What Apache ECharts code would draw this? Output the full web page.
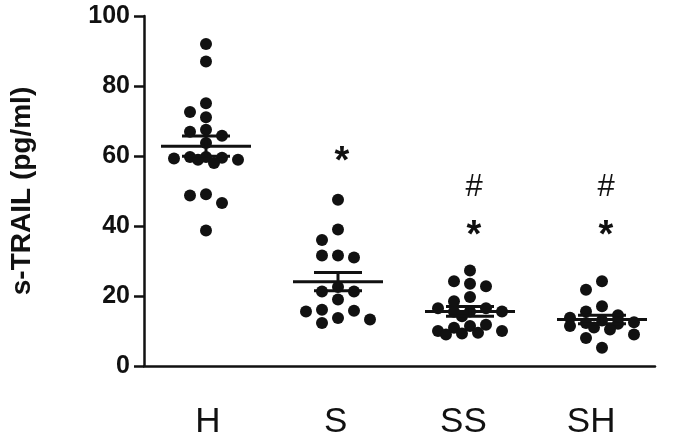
<!DOCTYPE html>
<html><head><meta charset="utf-8">
<script src="https://cdn.jsdelivr.net/npm/echarts@6/dist/echarts.min.js"></script>
<style>html,body{margin:0;padding:0;background:#fff}#c{width:677px;height:442px}</style>
</head><body><div id="c"></div>
<script>
const categories = ['H', 'S', 'SS', 'SH'];
const valuesH = [92.0, 87.0, 75.1, 72.6, 71.1, 67.5, 66.9, 65.8, 63.7, 59.7, 59.5, 59.7, 59.3, 58.9, 58.9, 58.0, 49.1, 48.7, 46.6, 38.7];
const valuesS = [47.5, 39.0, 36.0, 31.6, 31.0, 31.6, 22.6, 21.3, 21.3, 19.0, 16.1, 15.8, 15.6, 13.7, 13.3, 12.3];
const valuesSS = [27.3, 24.2, 23.5, 22.8, 19.7, 18.5, 16.5, 16.5, 15.6, 15.6, 15.5, 14.2, 11.8, 11.4, 10.9, 10.0, 10.0, 9.5, 9.3, 9.0];
const valuesSH = [24.2, 21.8, 17.1, 15.6, 14.5, 13.8, 13.0, 12.5, 12.3, 12.1, 11.4, 11.0, 10.4, 9.0, 8.0, 5.2];
const groupMeans = [62.8, 24.1, 15.6, 13.3];
const groupSEMs = [2.9, 2.6, 1.4, 1.2];
const starMarks = [null, 60, 39, 39];
const hashMarks = [null, null, 52, 52];
const yTickLabels = ['0', '20', '40', '60', '80', '100'];

const groups = [valuesH, valuesS, valuesSS, valuesSH];
const black = '#111111';
const font = 'Arial, "Liberation Sans", Helvetica, sans-serif';
const chart = echarts.init(document.getElementById('c'), null, { renderer: 'canvas' });

function buildOption(offsets) {
  const series = [];
  groups.forEach((vals, g) => {
    series.push({
      type: 'scatter', xAxisIndex: 1, yAxisIndex: 1, silent: true,
      symbol: 'circle', symbolSize: 12, z: 3,
      itemStyle: { color: black, opacity: 1 },
      data: vals.map((v, i) => ({ value: [g, v], symbolOffset: [offsets ? offsets[g][i] : 0, 0] }))
    });
  });
  series.push({
    type: 'custom', xAxisIndex: 1, yAxisIndex: 1, silent: true, z: 4,
    data: categories.map((c, g) => [g, groupMeans[g], groupSEMs[g]]),
    renderItem: function (params, api) {
      const g = api.value(0), m = api.value(1), s = api.value(2);
      const pm = api.coord([g, m]), pu = api.coord([g, m + s]), pl = api.coord([g, m - s]);
      const st = { stroke: black, lineWidth: 3 };
      return { type: 'group', children: [
        { type: 'line', shape: { x1: pm[0] - 45, y1: pm[1], x2: pm[0] + 45, y2: pm[1] }, style: st },
        { type: 'line', shape: { x1: pu[0] - 24, y1: pu[1], x2: pu[0] + 24, y2: pu[1] }, style: st },
        { type: 'line', shape: { x1: pl[0] - 24, y1: pl[1], x2: pl[0] + 24, y2: pl[1] }, style: st },
        { type: 'line', shape: { x1: pu[0], y1: pu[1], x2: pl[0], y2: pl[1] }, style: st }
      ]};
    }
  });
  const marks = [];
  categories.forEach((c, g) => {
    if (starMarks[g] != null) marks.push([g, starMarks[g], '*']);
    if (hashMarks[g] != null) marks.push([g, hashMarks[g], '#']);
  });
  series.push({
    type: 'custom', xAxisIndex: 1, yAxisIndex: 1, silent: true, z: 5,
    data: marks,
    renderItem: function (params, api) {
      const p = api.coord([api.value(0), api.value(1)]);
      const t = marks[params.dataIndex][2];
      const star = t === '*';
      return { type: 'text', x: p[0] + 4, y: p[1] + (star ? 7 : 3),
        style: { text: t, fill: black, fontSize: star ? 38 : 31, fontFamily: font,
          fontWeight: star ? 'bold' : 'normal',
          align: 'center', verticalAlign: 'middle', textAlign: 'center', textVerticalAlign: 'middle' } };
    }
  });
  return {
    animation: false,
    backgroundColor: '#ffffff',
    grid: [
      { left: 142, right: 22, top: 16, bottom: 76 },
      { left: 140, right: 9, top: 16, bottom: 76 }
    ],
    xAxis: [
      { type: 'category', gridIndex: 0, data: categories,
        axisLine: { lineStyle: { color: black, width: 2.5 } },
        axisTick: { alignWithLabel: true, length: 10, lineStyle: { color: black, width: 2.5 } },
        axisLabel: { color: black, fontSize: 35, fontFamily: font, margin: 39 },
        splitLine: { show: false } },
      { type: 'category', gridIndex: 1, data: categories, show: false }
    ],
    yAxis: [
      { type: 'value', gridIndex: 0, min: 0, max: 100, interval: 20,
        name: 's-TRAIL (pg/ml)', nameLocation: 'middle', nameGap: 108,
        nameTextStyle: { color: black, fontSize: 28, fontWeight: 'bold', fontFamily: font },
        axisLine: { show: true, lineStyle: { color: black, width: 2.5 } },
        axisTick: { show: true, length: 10, lineStyle: { color: black, width: 2.5 } },
        axisLabel: { color: black, fontSize: 25, fontWeight: 'bold', fontFamily: font, margin: 14,
          formatter: function (v) { return yTickLabels[Math.round(v / 20)]; } },
        splitLine: { show: false } },
      { type: 'value', gridIndex: 1, min: 0, max: 100, show: false }
    ],
    series: series
  };
}

chart.setOption(buildOption(null));

// compact beeswarm layout computed from the values through the axis scale
const candidates = [0, -16, 16, -32, 32, -8, 8, -24, 24];
const minDist = 12;
const offsets = groups.map((vals) => {
  const ys = vals.map(v => chart.convertToPixel({ yAxisIndex: 1 }, v));
  const idx = vals.map((v, i) => i).sort((a, b) => vals[b] - vals[a]);
  const placed = [];
  const res = new Array(vals.length).fill(0);
  idx.forEach(i => {
    let best = 0, bestD = -1;
    for (const dx of candidates) {
      let d = Infinity;
      placed.forEach(p => { d = Math.min(d, Math.hypot(p.x - dx, p.y - ys[i])); });
      if (d >= minDist) { best = dx; bestD = Infinity; break; }
      if (d > bestD + 0.5) { bestD = d; best = dx; }
    }
    placed.push({ x: best, y: ys[i] });
    res[i] = best;
  });
  return res;
});
chart.setOption(buildOption(offsets), true);
</script>
</body></html>
